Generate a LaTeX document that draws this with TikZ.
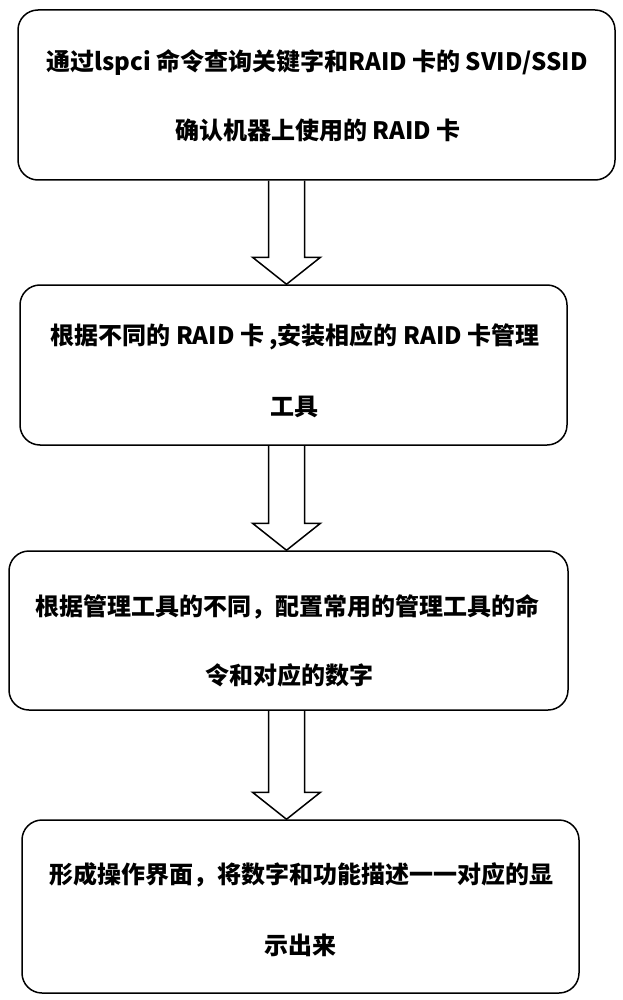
\documentclass[tikz,border=0pt]{standalone}
\usepackage{fontspec}
\setmainfont{Noto Sans CJK SC}
\usetikzlibrary{calc}
\begin{document}
\begin{tikzpicture}[x=1pt,y=-1pt,
  box/.style={draw, line width=1.5pt, rounded corners=20pt, inner sep=0pt},
  txt/.style={font=\fontsize{24}{24}\selectfont\bfseries, inner sep=0pt, anchor=center},
  blockarrow/.style={draw, line width=1.5pt, line join=miter}]
\useasboundingbox[fill=white] (0,0) rectangle (622,1000);
\coordinate (ax) at (286.5,0);
% boxes
\node[box, minimum width=597pt, minimum height=170pt] (b1) at (316.5,95) {};
\node[box, minimum width=547pt, minimum height=160pt] (b2) at (293.5,365) {};
\node[box, minimum width=559pt, minimum height=159pt] (b3) at (288.5,630.5) {};
\node[box, minimum width=557pt, minimum height=173pt] (b4) at (300.5,906.5) {};
% texts
\node[txt] (t1a) at (317,62) {通过lspci 命令查询关键字和RAID 卡的 SVID/SSID};
\node[txt] (t1b) at (318,130) {确认机器上使用的 RAID 卡};
\node[txt] (t2a) at (295,337) {根据不同的 RAID 卡 ,安装相应的 RAID 卡管理};
\node[txt] (t2b) at (294,407) {工具};
\node[txt] (t3a) at (287,607) {根据管理工具的不同，配置常用的管理工具的命};
\node[txt] (t3b) at (289,675) {令和对应的数字};
\node[txt] (t4a) at (301,875) {形成操作界面，将数字和功能描述一一对应的显};
\node[txt] (t4b) at (300,945) {示出来};
% block arrows
\foreach \s/\e in {b1/b2, b2/b3, b3/b4} {
  \path (\s.south -| ax) coordinate (s) (\e.north -| ax) coordinate (e);
  \draw[blockarrow] ($(s)+(-18,0)$) -- ($(e)+(-18,-27)$) -- ($(e)+(-34,-27)$) -- (e)
    -- ($(e)+(34,-27)$) -- ($(e)+(18,-27)$) -- ($(s)+(18,0)$);
}
\end{tikzpicture}
\end{document}
